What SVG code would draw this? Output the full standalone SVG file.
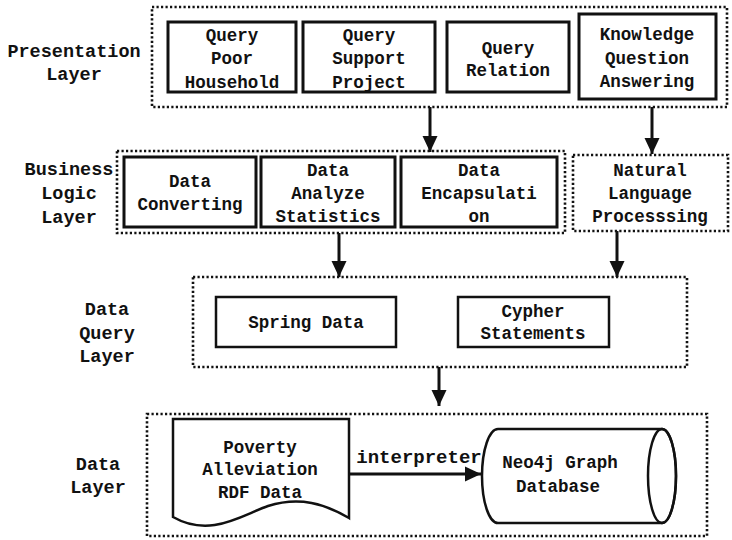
<svg xmlns="http://www.w3.org/2000/svg" width="732" height="540" viewBox="0 0 732 540">
<defs>
<style>
text{font-family:"Liberation Mono","DejaVu Sans Mono",monospace;font-weight:bold;fill:#111;text-anchor:middle}
.lbl{font-size:18.5px}
.bx{font-size:17.5px}
.dot{fill:none;stroke:#111;stroke-width:2.6;stroke-dasharray:2.2 2.3}
.box{fill:#fff;stroke:#111;stroke-width:3}
.box2{fill:#fff;stroke:#111;stroke-width:2.5}
.con{stroke:#111;stroke-width:3;fill:none}
</style>
<marker id="ah" markerUnits="userSpaceOnUse" markerWidth="16" markerHeight="18" viewBox="0 0 16 18" refX="16" refY="9" orient="auto">
<path d="M0,1.5 L16,9 L0,16.5 Z" fill="#111"/>
</marker>
</defs>
<rect width="732" height="540" fill="#fff"/>

<g id="presentation-layer">
<rect class="dot" x="152" y="7" width="575" height="100"/>
<text class="lbl" x="74" y="57">Presentation</text>
<text class="lbl" x="74" y="80">Layer</text>
</g>
<g id="query-poor-household">
<rect class="box" x="168" y="22" width="128" height="70"/>
<text class="bx" x="232" y="41">Query</text>
<text class="bx" x="232" y="64">Poor</text>
<text class="bx" x="232" y="88">Household</text>
</g>
<g id="query-support-project">
<rect class="box" x="303" y="22" width="132" height="70"/>
<text class="bx" x="369" y="41">Query</text>
<text class="bx" x="369" y="64">Support</text>
<text class="bx" x="369" y="88">Project</text>
</g>
<g id="query-relation">
<rect class="box" x="447" y="22" width="122" height="70"/>
<text class="bx" x="508" y="54">Query</text>
<text class="bx" x="508" y="76">Relation</text>
</g>
<g id="knowledge-qa">
<rect class="box" x="579" y="14" width="137" height="85"/>
<text class="bx" x="647" y="40">Knowledge</text>
<text class="bx" x="647" y="64">Question</text>
<text class="bx" x="647" y="87">Answering</text>
</g>

<g id="business-logic-layer">
<rect class="dot" x="117" y="151" width="448" height="82"/>
<text class="lbl" x="69" y="175">Business</text>
<text class="lbl" x="69" y="199">Logic</text>
<text class="lbl" x="69" y="223">Layer</text>
</g>
<g id="data-converting">
<rect class="box" x="124" y="157" width="132" height="70"/>
<text class="bx" x="190" y="187">Data</text>
<text class="bx" x="190" y="210">Converting</text>
</g>
<g id="data-analyze-statistics">
<rect class="box" x="261" y="157" width="134" height="70"/>
<text class="bx" x="328" y="176">Data</text>
<text class="bx" x="328" y="199">Analyze</text>
<text class="bx" x="328" y="222">Statistics</text>
</g>
<g id="data-encapsulation">
<rect class="box" x="401" y="157" width="156" height="70"/>
<text class="bx" x="479" y="176">Data</text>
<text class="bx" x="479" y="199">Encapsulati</text>
<text class="bx" x="479" y="222">on</text>
</g>
<g id="nlp">
<rect class="dot" x="573" y="155" width="155" height="76"/>
<text class="bx" x="650" y="176">Natural</text>
<text class="bx" x="650" y="199">Language</text>
<text class="bx" x="650" y="222">Processsing</text>
</g>

<g id="data-query-layer">
<rect class="dot" x="193" y="277" width="494" height="90"/>
<text class="lbl" x="107" y="315">Data</text>
<text class="lbl" x="107" y="339">Query</text>
<text class="lbl" x="107" y="362">Layer</text>
</g>
<g id="spring-data">
<rect class="box2" x="216" y="297" width="180" height="50"/>
<text class="bx" x="306" y="328">Spring Data</text>
</g>
<g id="cypher-statements">
<rect class="box2" x="458" y="297" width="151" height="50"/>
<text class="bx" x="533" y="317">Cypher</text>
<text class="bx" x="533" y="339">Statements</text>
</g>

<g id="data-layer">
<rect class="dot" x="147" y="414" width="560" height="122"/>
<text class="lbl" x="98" y="470">Data</text>
<text class="lbl" x="98" y="493">Layer</text>
</g>
<g id="rdf-data">
<path class="box2" d="M173,419 H349 V518 C325,504 300,496 268,506 C240,516 210,538 173,517 Z"/>
<text class="bx" x="260" y="453">Poverty</text>
<text class="bx" x="260" y="475">Alleviation</text>
<text class="bx" x="260" y="498">RDF Data</text>
</g>
<g id="neo4j">
<path class="box2" d="M498,429 H662 A14,47 0 0 1 662,523 H498 A16,47 0 0 1 498,429 Z"/>
<ellipse cx="662" cy="476" rx="14" ry="47" fill="none" stroke="#111" stroke-width="2.5"/>
<text class="bx" x="560" y="468">Neo4j Graph</text>
<text class="bx" x="558" y="492">Database</text>
</g>

<g id="connectors">
<line class="con" x1="430" y1="107" x2="430" y2="152" marker-end="url(#ah)"/>
<line class="con" x1="652" y1="107" x2="652" y2="154" marker-end="url(#ah)"/>
<line class="con" x1="339" y1="233" x2="339" y2="277" marker-end="url(#ah)"/>
<line class="con" x1="617" y1="231" x2="617" y2="277" marker-end="url(#ah)"/>
<line class="con" x1="439" y1="367" x2="439" y2="406" marker-end="url(#ah)"/>
<line class="con" x1="349" y1="474" x2="481" y2="474" marker-end="url(#ah)"/>
<text x="419" y="463" style="font-size:19px">interpreter</text>
</g>
</svg>
